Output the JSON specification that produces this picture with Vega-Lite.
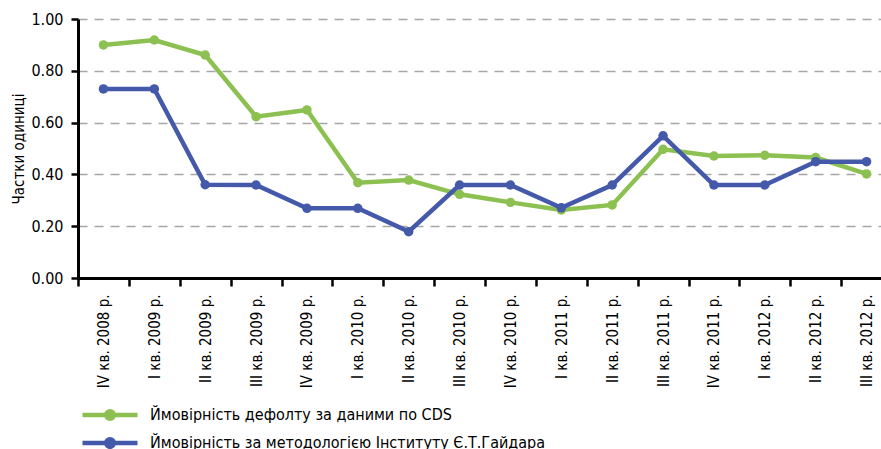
{
  "$schema": "https://vega.github.io/schema/vega-lite/v6.json",
  "width": 803,
  "height": 259,
  "autosize": {"type": "none"},
  "padding": {"left": 78, "top": 19, "right": 0, "bottom": 171},
  "background": "white",
  "config": {
    "view": {"stroke": null},
    "font": "Liberation Sans Narrow, DejaVu Sans Condensed, sans-serif"
  },
  "data": {
    "values": [
      {"q": "IV кв. 2008 р.", "s": "Ймовірність дефолту за даними по CDS", "v": 0.900},
      {"q": "I кв. 2009 р.", "s": "Ймовірність дефолту за даними по CDS", "v": 0.919},
      {"q": "II кв. 2009 р.", "s": "Ймовірність дефолту за даними по CDS", "v": 0.861},
      {"q": "III кв. 2009 р.", "s": "Ймовірність дефолту за даними по CDS", "v": 0.623},
      {"q": "IV кв. 2009 р.", "s": "Ймовірність дефолту за даними по CDS", "v": 0.649},
      {"q": "I кв. 2010 р.", "s": "Ймовірність дефолту за даними по CDS", "v": 0.368},
      {"q": "II кв. 2010 р.", "s": "Ймовірність дефолту за даними по CDS", "v": 0.378},
      {"q": "III кв. 2010 р.", "s": "Ймовірність дефолту за даними по CDS", "v": 0.323},
      {"q": "IV кв. 2010 р.", "s": "Ймовірність дефолту за даними по CDS", "v": 0.292},
      {"q": "I кв. 2011 р.", "s": "Ймовірність дефолту за даними по CDS", "v": 0.263},
      {"q": "II кв. 2011 р.", "s": "Ймовірність дефолту за даними по CDS", "v": 0.282},
      {"q": "III кв. 2011 р.", "s": "Ймовірність дефолту за даними по CDS", "v": 0.497},
      {"q": "IV кв. 2011 р.", "s": "Ймовірність дефолту за даними по CDS", "v": 0.471},
      {"q": "I кв. 2012 р.", "s": "Ймовірність дефолту за даними по CDS", "v": 0.474},
      {"q": "II кв. 2012 р.", "s": "Ймовірність дефолту за даними по CDS", "v": 0.465},
      {"q": "III кв. 2012 р.", "s": "Ймовірність дефолту за даними по CDS", "v": 0.402},
      {"q": "IV кв. 2008 р.", "s": "Ймовірність за методологією Інституту Є.Т.Гайдара", "v": 0.730},
      {"q": "I кв. 2009 р.", "s": "Ймовірність за методологією Інституту Є.Т.Гайдара", "v": 0.730},
      {"q": "II кв. 2009 р.", "s": "Ймовірність за методологією Інституту Є.Т.Гайдара", "v": 0.360},
      {"q": "III кв. 2009 р.", "s": "Ймовірність за методологією Інституту Є.Т.Гайдара", "v": 0.359},
      {"q": "IV кв. 2009 р.", "s": "Ймовірність за методологією Інституту Є.Т.Гайдара", "v": 0.269},
      {"q": "I кв. 2010 р.", "s": "Ймовірність за методологією Інституту Є.Т.Гайдара", "v": 0.269},
      {"q": "II кв. 2010 р.", "s": "Ймовірність за методологією Інституту Є.Т.Гайдара", "v": 0.179},
      {"q": "III кв. 2010 р.", "s": "Ймовірність за методологією Інституту Є.Т.Гайдара", "v": 0.359},
      {"q": "IV кв. 2010 р.", "s": "Ймовірність за методологією Інституту Є.Т.Гайдара", "v": 0.359},
      {"q": "I кв. 2011 р.", "s": "Ймовірність за методологією Інституту Є.Т.Гайдара", "v": 0.271},
      {"q": "II кв. 2011 р.", "s": "Ймовірність за методологією Інституту Є.Т.Гайдара", "v": 0.359},
      {"q": "III кв. 2011 р.", "s": "Ймовірність за методологією Інституту Є.Т.Гайдара", "v": 0.549},
      {"q": "IV кв. 2011 р.", "s": "Ймовірність за методологією Інституту Є.Т.Гайдара", "v": 0.359},
      {"q": "I кв. 2012 р.", "s": "Ймовірність за методологією Інституту Є.Т.Гайдара", "v": 0.359},
      {"q": "II кв. 2012 р.", "s": "Ймовірність за методологією Інституту Є.Т.Гайдара", "v": 0.449},
      {"q": "III кв. 2012 р.", "s": "Ймовірність за методологією Інституту Є.Т.Гайдара", "v": 0.449}
    ]
  },
  "mark": {"type": "line", "strokeWidth": 4.5, "point": {"filled": true, "size": 90, "opacity": 1}},
  "encoding": {
    "x": {
      "field": "q", "type": "nominal", "sort": null,
      "scale": {"type": "band", "range": [0, 814], "paddingInner": 0, "paddingOuter": 0},
      "axis": {
        "title": null, "labelAngle": -90, "labelAlign": "right", "labelBaseline": "middle",
        "labelFontSize": 15, "labelColor": "#000", "labelPadding": 8,
        "tickBand": "extent", "tickColor": "#000", "tickWidth": 2.5, "tickSize": 8,
        "domainColor": "#000", "domainWidth": 3, "grid": false
      }
    },
    "y": {
      "field": "v", "type": "quantitative",
      "scale": {"domain": [0, 1], "nice": false},
      "axis": {
        "title": "Частки одиниці", "titleFontSize": 15, "titleFontWeight": "normal", "titleColor": "#000",
        "titlePadding": 4,
        "values": [0, 0.2, 0.4, 0.6, 0.8, 1], "format": ".2f",
        "labelFontSize": 16, "labelColor": "#000", "labelPadding": 8,
        "tickColor": "#000", "tickWidth": 2.5, "tickSize": 7,
        "domainColor": "#000", "domainWidth": 3,
        "grid": true, "gridColor": "#a6a6a6", "gridDash": [9, 7], "gridWidth": 1.5
      }
    },
    "color": {
      "field": "s", "type": "nominal", "sort": null,
      "scale": {
        "domain": ["Ймовірність дефолту за даними по CDS", "Ймовірність за методологією Інституту Є.Т.Гайдара"],
        "range": ["#8cc152", "#4459a9"]
      },
      "legend": {
        "title": null, "orient": "none", "legendX": 2, "legendY": 388, "direction": "vertical",
        "padding": 0, "rowPadding": 2,
        "symbolType": "M-1,0H9M4.7,0A0.7,0.7,0,1,1,3.3,0A0.7,0.7,0,1,1,4.7,0",
        "symbolSize": 121, "symbolStrokeWidth": 4.5, "symbolOffset": 0,
        "labelFontSize": 16, "labelColor": "#000", "labelOffset": 54, "labelLimit": 600,
        "encode": {"symbols": {"update": {"fill": {"scale": "color", "field": "value"}, "stroke": {"scale": "color", "field": "value"}}}}
      }
    }
  }
}
